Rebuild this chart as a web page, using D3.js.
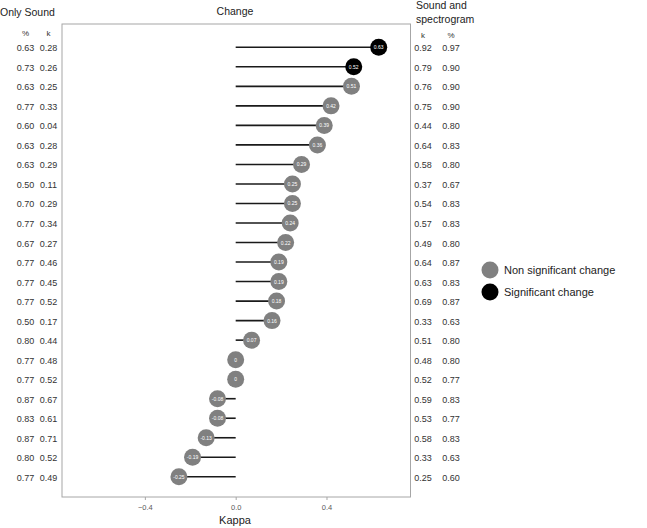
<!DOCTYPE html>
<html>
<head>
<meta charset="utf-8">
<script src="https://cdn.jsdelivr.net/npm/d3@7"></script>
<style>
  body { margin: 0; background: #fff; }
  text { font-family: "Liberation Sans", Arial, sans-serif; }
</style>
</head>
<body>
<script>
// kappa change per item (sound+spectrogram minus only sound)
const change = [0.63, 0.52, 0.51, 0.42, 0.39, 0.36, 0.29, 0.25, 0.25, 0.24, 0.22, 0.19,
  0.19, 0.18, 0.16, 0.07, 0, 0, -0.08, -0.08, -0.13, -0.19, -0.25]
const significant = [true, true, false, false, false, false, false, false, false, false, false, false,
  false, false, false, false, false, false, false, false, false, false, false]

const onlyPct = [0.63, 0.73, 0.63, 0.77, 0.60, 0.63, 0.63, 0.50, 0.70, 0.77, 0.67, 0.77,
  0.77, 0.77, 0.50, 0.80, 0.77, 0.77, 0.87, 0.83, 0.87, 0.80, 0.77]
const onlyK = [0.28, 0.26, 0.25, 0.33, 0.04, 0.28, 0.29, 0.11, 0.29, 0.34, 0.27, 0.46,
  0.45, 0.52, 0.17, 0.44, 0.48, 0.52, 0.67, 0.61, 0.71, 0.52, 0.49]
const specK = [0.92, 0.79, 0.76, 0.75, 0.44, 0.64, 0.58, 0.37, 0.54, 0.57, 0.49, 0.64,
  0.63, 0.69, 0.33, 0.51, 0.48, 0.52, 0.59, 0.53, 0.58, 0.33, 0.25]
const specPct = [0.97, 0.90, 0.90, 0.90, 0.80, 0.83, 0.80, 0.67, 0.83, 0.83, 0.80, 0.87,
  0.83, 0.87, 0.63, 0.80, 0.80, 0.77, 0.83, 0.77, 0.83, 0.63, 0.60]

const xTicks = [-0.4, 0, 0.4]
const legendItems = ["Non significant change", "Significant change"]

const w = 647, h = 528
const box = {left: 62, right: 410.5, top: 24, bottom: 497}

const svg = d3.select("body").append("svg")
  .attr("width", w)
  .attr("height", h)

const x = d3.scaleLinear()
  .domain([-0.765, 0.77])
  .range([box.left, box.right])

const y = d3.scalePoint()
  .domain(d3.range(change.length))
  .range([47.3, 476.8])

const fmt = d => d === 0 ? "0" : d.toFixed(2)

// panel border
svg.append("rect")
  .attr("x", box.left).attr("y", box.top)
  .attr("width", box.right - box.left).attr("height", box.bottom - box.top)
  .attr("fill", "none").attr("stroke", "#a6a6a6").attr("stroke-width", 1)

// x axis
const xAxis = d3.axisBottom(x).tickValues(xTicks).tickSize(3).tickFormat(d3.format(".1f"))
const gx = svg.append("g")
  .attr("transform", "translate(0," + box.bottom + ")")
  .call(xAxis)
gx.select(".domain").remove()
gx.selectAll(".tick line").attr("stroke", "#a6a6a6")
gx.selectAll(".tick text").attr("fill", "#595959").attr("font-size", 7.5)
  .attr("font-family", "Liberation Sans, Arial, sans-serif").attr("dy", "0.9em")

svg.append("text").attr("x", 235).attr("y", 524).attr("text-anchor", "middle")
  .attr("font-size", 11).attr("fill", "#222").text("Kappa")

// lollipop stems
svg.selectAll("line.stem").data(change).enter().append("line")
  .attr("class", "stem")
  .attr("x1", x(0)).attr("x2", d => x(d))
  .attr("y1", (d, i) => y(i)).attr("y2", (d, i) => y(i))
  .attr("stroke", "#1a1a1a").attr("stroke-width", 1.6)

svg.selectAll("circle.dot").data(change).enter().append("circle")
  .attr("class", "dot")
  .attr("cx", d => x(d)).attr("cy", (d, i) => y(i)).attr("r", 8.5)
  .attr("fill", (d, i) => significant[i] ? "#000" : "#808080")

svg.selectAll("text.lab").data(change).enter().append("text")
  .attr("class", "lab")
  .attr("x", d => x(d)).attr("y", (d, i) => y(i))
  .attr("text-anchor", "middle").attr("dominant-baseline", "central")
  .attr("font-size", 5).attr("fill", "#fff")
  .text(fmt)

// side tables
const cols = [
  {vals: onlyPct, cx: 25.5}, {vals: onlyK, cx: 48.5},
  {vals: specK, cx: 423}, {vals: specPct, cx: 451}
]
cols.forEach(c => {
  svg.append("g").selectAll("text").data(c.vals).enter().append("text")
    .attr("x", c.cx).attr("y", (d, i) => y(i) + 1)
    .attr("text-anchor", "middle").attr("dominant-baseline", "central")
    .attr("font-size", 9).attr("fill", "#333")
    .text(d => d.toFixed(2))
})

const hdr = [["%", 25.5, 33], ["k", 48.5, 33], ["k", 423, 35], ["%", 451, 35]]
hdr.forEach(t => {
  svg.append("text").attr("x", t[1]).attr("y", t[2])
    .attr("text-anchor", "middle").attr("dominant-baseline", "central")
    .attr("font-size", 8).attr("fill", "#333").text(t[0])
})

svg.append("text").attr("x", 0).attr("y", 16).attr("font-size", 10.5).attr("fill", "#222").text("Only Sound")
svg.append("text").attr("x", 235).attr("y", 15).attr("text-anchor", "middle")
  .attr("font-size", 10.5).attr("fill", "#222").text("Change")
svg.append("text").attr("x", 416).attr("y", 9).attr("font-size", 10.5).attr("fill", "#222").text("Sound and")
svg.append("text").attr("x", 416).attr("y", 23).attr("font-size", 10.5).attr("fill", "#222").text("spectrogram")

// legend
const lg = svg.append("g").attr("transform", "translate(490,270)")
legendItems.forEach((t, i) => {
  lg.append("circle").attr("cx", 0).attr("cy", i * 22).attr("r", 8.5)
    .attr("fill", i === 0 ? "#808080" : "#000")
  lg.append("text").attr("x", 14).attr("y", i * 22).attr("dominant-baseline", "central")
    .attr("font-size", 11).attr("fill", "#222").text(t)
})
</script>
</body>
</html>
